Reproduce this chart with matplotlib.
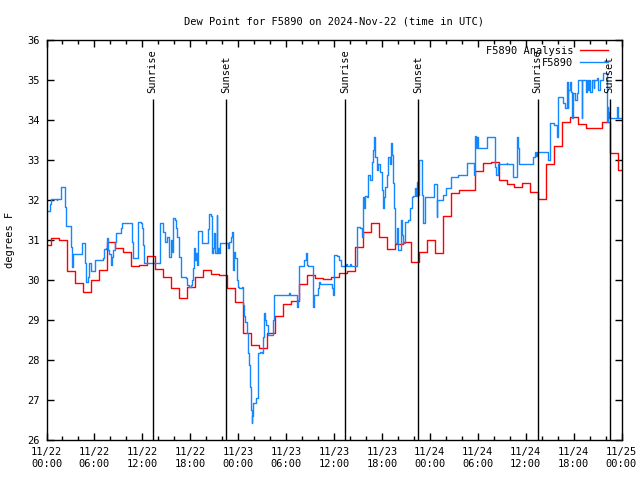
import numpy as np
import pandas as pd
import matplotlib
matplotlib.use("Agg")
import matplotlib.pyplot as plt
import matplotlib.dates as mdates

matplotlib.rcParams['font.family'] = 'DejaVu Sans Mono'
matplotlib.rcParams['font.size'] = 7.5

start = pd.Timestamp("2024-11-22 00:00")

# analysis (hourly steps)
red_vals = [30.87, 31.05, 31.0, 30.22, 29.92, 29.69, 30.0, 30.25, 30.94, 30.79,
            30.7, 30.35, 30.37, 30.6, 30.28, 30.08, 29.81, 29.54, 29.83, 30.07,
            30.24, 30.16, 30.12, 29.8, 29.44, 28.67, 28.37, 28.29, 28.67, 29.1,
            29.39, 29.47, 29.89, 30.12, 30.04, 30.02, 30.07, 30.17, 30.22, 30.82,
            31.19, 31.43, 31.07, 30.78, 30.89, 30.94, 30.46, 30.71, 31.0, 30.67,
            31.61, 32.17, 32.25, 32.25, 32.72, 32.93, 32.96, 32.5, 32.4, 32.32,
            32.42, 32.21, 32.02, 32.89, 33.35, 33.96, 34.07, 33.9, 33.79, 33.79,
            33.95, 33.17, 32.75]
red_hours = [0.0] + [k + 0.6 for k in range(72)]

# station observations: (hour, value)
blue_hours = [0.0, 0.44, 0.6, 1.27, 1.33, 1.86, 2.27, 2.4, 3.03, 3.11, 3.18, 3.28,
              4.49, 4.78, 4.9, 5.24, 5.32, 5.53, 6.07, 7.12, 7.2, 7.41, 7.62, 7.7,
              7.83, 8.03, 8.24, 8.37, 8.58, 8.66, 9.37, 9.49, 10.75, 10.87, 11.5,
              11.79, 12.0, 12.12, 12.21, 14.17, 14.63, 14.8, 15.05, 15.34, 15.55,
              15.67, 15.84, 16.05, 16.17, 16.38, 16.59, 16.8, 17.42, 17.63, 17.85,
              18.05, 18.18, 18.39, 18.5, 18.6, 18.7, 18.8, 18.97, 19.5, 20.27,
              20.39, 20.55, 20.68, 20.89, 21.0, 21.1, 21.31, 21.4, 21.52, 21.6,
              21.73, 22.14, 22.6, 22.75, 22.9, 23.06, 23.19, 23.31, 23.4, 23.5,
              23.6, 23.81, 23.94, 24.15, 24.44, 24.65, 24.73, 24.86, 25.07, 25.19,
              25.32, 25.48, 25.57, 25.69, 25.78, 25.9, 26.23, 26.44, 26.53, 26.74,
              26.95, 27.07, 27.19, 27.35, 27.49, 27.7, 28.32, 28.49, 30.4, 30.5,
              31.33, 31.45, 31.66, 32.3, 32.49, 32.58, 32.7, 33.33, 33.54, 33.95,
              34.16, 34.25, 35.7, 35.83, 36.04, 36.4, 36.6, 36.88, 37.5, 37.6,
              38.0, 38.1, 38.84, 39.3, 39.46, 39.67, 39.75, 39.85, 40.1, 40.3,
              40.5, 40.72, 40.84, 41.0, 41.13, 41.34, 41.55, 41.76, 41.97, 42.1,
              42.2, 42.4, 42.6, 42.8, 42.97, 43.14, 43.22, 43.35, 43.43, 43.55,
              43.64, 43.85, 43.95, 44.05, 44.26, 44.4, 44.56, 44.7, 44.89, 45.31,
              45.52, 45.73, 45.95, 46.14, 46.3, 46.43, 46.56, 46.69, 46.98, 47.19,
              47.4, 48.52, 48.86, 48.94, 49.6, 50.02, 50.65, 51.57, 52.6, 53.5,
              53.7, 53.8, 53.95, 54.07, 54.5, 54.55, 55.12, 56.16, 56.29, 56.58,
              57.6, 57.7, 58.46, 58.87, 59.0, 59.21, 60.96, 61.17, 61.3, 61.4,
              62.84, 63.05, 63.6, 63.88, 64.0, 64.72, 64.9, 65.13, 65.26, 65.34,
              65.55, 65.65, 65.76, 65.88, 66.15, 66.39, 66.6, 67.0, 67.05, 67.45,
              67.6, 67.7, 67.85, 67.95, 68.1, 68.3, 68.5, 68.6, 68.9, 69.1, 69.3,
              69.73, 70.14, 70.27, 70.35, 70.48, 71.39, 71.6, 72.0]
blue_vals = [31.72, 31.89, 32.02, 32.0, 32.02, 32.32, 31.83, 31.36, 31.33, 30.83, 30.33, 30.64,
             30.92, 30.42, 29.94, 30.08, 30.42, 30.22, 30.5, 30.54, 30.77, 30.8, 31.04, 30.75,
             30.65, 30.37, 30.58, 30.75, 30.96, 31.17, 31.29, 31.42, 30.96, 30.54, 31.46,
             31.42, 31.29, 30.87, 30.42, 31.42, 31.2, 30.96, 31.08, 30.58, 31.0,
             30.71, 31.54, 31.5, 31.29, 31.08, 30.58, 30.08, 30.06, 29.88, 29.83,
             29.88, 30.0, 30.29, 30.79, 30.5, 30.67, 30.38, 31.22, 30.92, 31.28,
             31.64, 31.6, 30.67, 30.79, 31.17, 30.67, 31.62, 30.67, 30.79, 30.67,
             30.92, 30.93, 30.92, 30.79, 30.95, 31.08, 31.21, 30.92, 30.25, 30.7,
             30.54, 30.0, 29.83, 29.79, 29.83, 29.38, 29.1, 28.96, 28.67, 28.17,
             27.88, 27.33, 26.75, 26.42, 26.6, 26.92, 27.04, 27.17, 28.17, 28.21,
             28.17, 28.58, 29.17, 29.0, 28.88, 28.62, 29.0, 29.62, 29.68, 29.62,
             29.33, 29.5, 30.35, 30.5, 30.67, 30.38, 30.35, 29.33, 29.62, 29.8,
             29.96, 29.89, 29.79, 29.62, 30.62, 30.6, 30.5, 30.35, 30.4, 30.35,
             30.4, 30.35, 31.33, 31.3, 31.07, 32.08, 31.8, 32.1, 32.08, 32.62,
             32.5, 32.96, 33.25, 33.58, 33.08, 32.75, 32.9, 32.71, 32.25, 31.79,
             32.08, 32.33, 32.62, 33.08, 32.9, 33.42, 33.12, 32.96, 32.42, 31.79,
             30.92, 31.0, 31.3, 30.75, 30.75, 31.5, 31.12, 30.92, 31.46, 31.5,
             31.79, 32.08, 32.1, 32.29, 32.1, 32.46, 32.12, 33.0, 32.12, 31.42,
             32.08, 32.39, 31.58, 32.0, 32.12, 32.29, 32.58, 32.62, 32.93, 32.62,
             33.6, 33.29, 33.58, 33.31, 33.3, 33.31, 33.58, 32.83, 32.62, 32.9,
             32.92, 32.9, 32.58, 33.58, 33.29, 32.9, 33.08, 33.21, 33.1, 33.21,
             33.0, 33.92, 33.88, 33.58, 34.58, 34.42, 34.3, 34.96, 34.29, 34.75,
             34.96, 34.71, 34.04, 34.67, 34.5, 34.67, 35.0, 34.04, 35.0, 35.0,
             34.71, 35.0, 34.75, 35.0, 34.71, 35.0, 34.79, 35.0, 35.04, 34.75, 35.0,
             35.17, 33.96, 34.33, 34.21, 34.04, 34.33, 34.04, 34.04]

sun_hours = [13.3, 22.45, 37.4, 46.5, 61.5, 70.5]
sun_labels = ["Sunrise", "Sunset", "Sunrise", "Sunset", "Sunrise", "Sunset"]

to_time = lambda h: start + pd.to_timedelta(np.asarray(h), unit="h")

fig = plt.figure(figsize=(6.4, 4.8), dpi=100)
ax = fig.add_axes([46.5 / 640, 40 / 480, 575 / 640, 400 / 480])

rt = to_time(red_hours + [72.0])
ax.plot(rt, red_vals + [red_vals[-1]], drawstyle="steps-post", color="#ff0000",
        lw=1.0, label="F5890 Analysis")
ax.plot(to_time(blue_hours), blue_vals, drawstyle="steps-post", color="#1487ff",
        lw=1.0, label="F5890")

for h, lab in zip(sun_hours, sun_labels):
    t = to_time([h])[0]
    ax.vlines(t, 26, 34.52, color="black", lw=1.0)
    ax.text(t, 34.68, lab, rotation=90, ha="center", va="bottom")

ax.set_xlim(start, start + pd.Timedelta(hours=72))
ax.set_ylim(26, 36)
ax.set_yticks(range(26, 37))
ax.xaxis.set_major_locator(mdates.HourLocator(byhour=range(0, 24, 6)))
ax.xaxis.set_minor_locator(mdates.HourLocator(byhour=range(0, 24, 2)))
ax.xaxis.set_major_formatter(mdates.DateFormatter("%m/%d\n%H:%M"))
ax.tick_params(which="both", direction="in", top=True, right=True, width=1)
ax.tick_params(which="major", length=5, pad=5)
ax.tick_params(which="minor", length=3)
ax.tick_params(axis="y", pad=5)
for s in ax.spines.values():
    s.set_linewidth(1.0)

ax.set_title("Dew Point for F5890 on 2024-Nov-22 (time in UTC)", fontsize=7.5, pad=11)
fig.text(10 / 640, 0.5, "degrees F", rotation=90, ha="center", va="center")

ax.legend(loc="upper right", bbox_to_anchor=(0.976, 0.985), frameon=False,
          markerfirst=False, borderaxespad=0, borderpad=0, handlelength=2.7,
          handletextpad=0.6, labelspacing=0.15)

fig.savefig("out.png", dpi=100)
